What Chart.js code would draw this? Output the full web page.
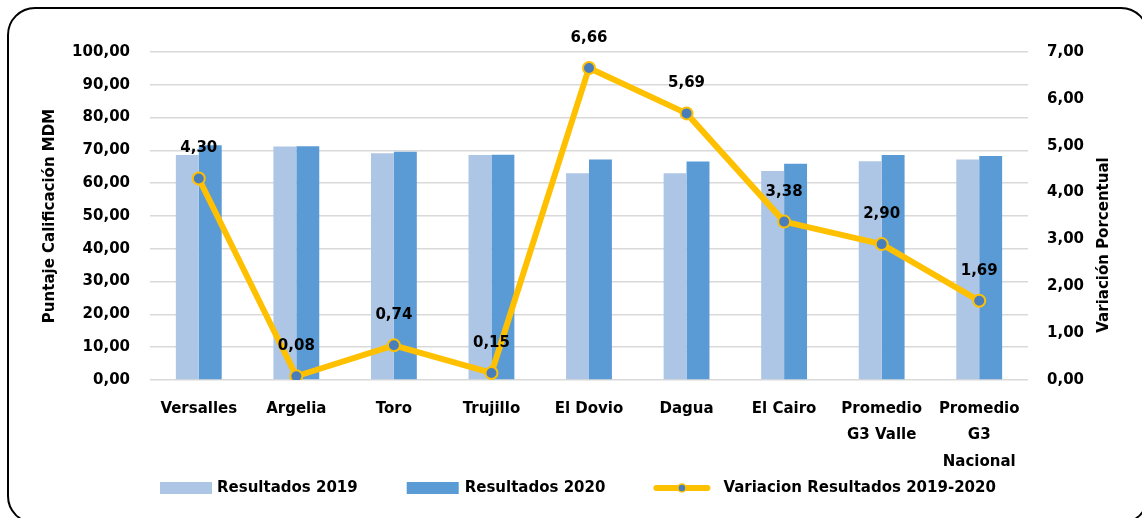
<!DOCTYPE html>
<html>
<head>
<meta charset="utf-8">
<script src="https://cdn.jsdelivr.net/npm/chart.js@4"></script>
<style>
  html, body { margin: 0; padding: 0; background: #fff; overflow: hidden; }
  #wrap { position: relative; width: 1142px; height: 518px; overflow: hidden; }
  #frame {
    position: absolute; left: 7px; top: 7px; width: 1142px; height: 517px;
    box-sizing: border-box; border: 2px solid #000; border-radius: 28px;
    pointer-events: none;
  }
</style>
</head>
<body>
<div id="wrap">
  <canvas id="chart" width="1142" height="518"></canvas>
  <div id="frame"></div>
</div>
<script>
// Municipios y promedios comparados
const categorias = [
  ['Versalles'], ['Argelia'], ['Toro'], ['Trujillo'], ['El Dovio'],
  ['Dagua'], ['El Cairo'], ['Promedio', 'G3 Valle'], ['Promedio', 'G3', 'Nacional']
];
const resultados2019 = [68.6, 71.2, 69.1, 68.6, 63.0, 63.0, 63.7, 66.7, 67.2];
const resultados2020 = [71.6, 71.3, 69.6, 68.7, 67.2, 66.6, 65.9, 68.6, 68.3];
const variacion = [4.30, 0.08, 0.74, 0.15, 6.66, 5.69, 3.38, 2.90, 1.69];

const azulClaro = '#adc6e5';
const azul = '#5b9bd5';
const amarillo = '#ffc000';
const azulPunto = '#4a7ebb';

// formato con coma decimal
function fmt(v) {
  return Number(v).toFixed(2).replace('.', ',');
}

Chart.defaults.font.family = 'DejaVu Sans';
Chart.defaults.font.weight = 'bold';
Chart.defaults.font.size = 15;
Chart.defaults.color = '#000';

// Etiquetas de valor encima de cada punto de la linea
const etiquetasLinea = {
  id: 'etiquetasLinea',
  afterDatasetsDraw(chart) {
    const ctx = chart.ctx;
    const meta = chart.getDatasetMeta(0);
    const data = chart.data.datasets[0].data;
    ctx.save();
    ctx.font = 'bold 15px "DejaVu Sans"';
    ctx.fillStyle = '#000';
    ctx.textAlign = 'center';
    ctx.textBaseline = 'middle';
    meta.data.forEach((pt, i) => {
      ctx.fillText(fmt(data[i]), pt.x, pt.y - 30);
    });
    ctx.restore();
  }
};

// Leyenda inferior y titulo del eje derecho
const leyenda = {
  id: 'leyenda',
  afterDraw(chart) {
    const ctx = chart.ctx;
    const ds = chart.data.datasets;
    const y = 488;
    ctx.save();
    ctx.font = 'bold 15px "DejaVu Sans"';
    ctx.textBaseline = 'middle';
    ctx.textAlign = 'left';

    // barras 2019
    let x = 160;
    ctx.fillStyle = ds[1].backgroundColor;
    ctx.fillRect(x, y - 6, 52, 12);
    ctx.fillStyle = '#000';
    ctx.fillText(ds[1].label, x + 57, y);
    x = x + 57 + ctx.measureText(ds[1].label).width + 49;

    // barras 2020
    ctx.fillStyle = ds[2].backgroundColor;
    ctx.fillRect(x, y - 6, 52, 12);
    ctx.fillStyle = '#000';
    ctx.fillText(ds[2].label, x + 58, y);
    x = x + 58 + ctx.measureText(ds[2].label).width + 48;

    // linea de variacion
    ctx.strokeStyle = ds[0].borderColor;
    ctx.lineWidth = 6;
    ctx.lineCap = 'round';
    ctx.beginPath();
    ctx.moveTo(x + 3, y);
    ctx.lineTo(x + 54, y);
    ctx.stroke();
    ctx.beginPath();
    ctx.arc(x + 28.5, y, 4, 0, Math.PI * 2);
    ctx.fillStyle = ds[0].pointBackgroundColor;
    ctx.fill();
    ctx.lineWidth = 1.5;
    ctx.stroke();
    ctx.fillStyle = '#000';
    ctx.fillText(ds[0].label, x + 70, y);

    // titulo eje derecho (de abajo hacia arriba)
    ctx.translate(1104, 245);
    ctx.rotate(-Math.PI / 2);
    ctx.textAlign = 'center';
    ctx.fillText('Variación Porcentual', 0, 0);
    ctx.restore();
  }
};

new Chart(document.getElementById('chart'), {
  type: 'bar',
  data: {
    labels: categorias,
    datasets: [
      {
        type: 'line',
        label: 'Variacion Resultados 2019-2020',
        data: variacion,
        yAxisID: 'y1',
        borderColor: amarillo,
        borderWidth: 6,
        borderCapStyle: 'round',
        borderJoinStyle: 'round',
        pointRadius: 6,
        pointBorderWidth: 2,
        pointBackgroundColor: azulPunto,
        pointBorderColor: amarillo,
        tension: 0,
        order: 0
      },
      {
        label: 'Resultados 2019',
        data: resultados2019,
        backgroundColor: azulClaro,
        yAxisID: 'y',
        barPercentage: 1,
        categoryPercentage: 0.47,
        order: 1
      },
      {
        label: 'Resultados 2020',
        data: resultados2020,
        backgroundColor: azul,
        yAxisID: 'y',
        barPercentage: 1,
        categoryPercentage: 0.47,
        order: 1
      }
    ]
  },
  options: {
    responsive: false,
    animation: false,
    layout: { padding: { left: 0, right: 0, top: 52, bottom: 38 } },
    plugins: {
      legend: { display: false },
      tooltip: { enabled: false }
    },
    scales: {
      x: {
        grid: { display: false },
        border: { display: false },
        ticks: {
          padding: 8,
          maxRotation: 0,
          autoSkip: false,
          font: { size: 15, weight: 'bold', lineHeight: 1.75 }
        },
        afterFit(scale) { scale.height = 100; }
      },
      y: {
        position: 'left',
        min: 0,
        max: 100,
        ticks: { stepSize: 10, padding: 20, callback: v => fmt(v) },
        grid: { color: '#d9d9d9', lineWidth: 1.5, drawTicks: false },
        border: { display: false },
        title: {
          display: true,
          text: 'Puntaje Calificación MDM',
          font: { size: 15, weight: 'bold' },
          padding: { top: 41 }
        },
        afterFit(scale) { scale.width = 150; }
      },
      y1: {
        position: 'right',
        min: 0,
        max: 7,
        ticks: { stepSize: 1, padding: 19, callback: v => fmt(v) },
        grid: { display: false, drawTicks: false },
        border: { display: false },
        afterFit(scale) { scale.width = 114; }
      }
    }
  },
  plugins: [etiquetasLinea, leyenda]
});
</script>
</body>
</html>
